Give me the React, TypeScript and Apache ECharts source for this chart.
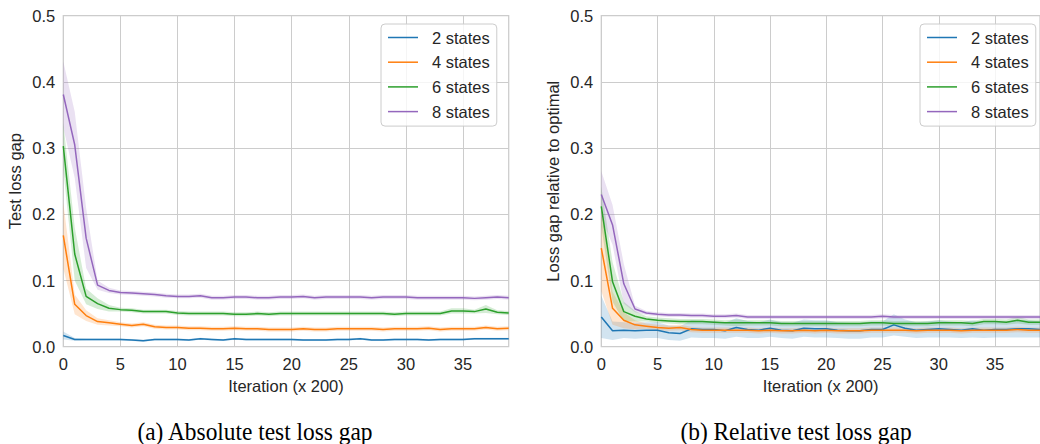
import React, { useEffect, useRef } from "react";
import * as echarts from "echarts";

// Iteration index (x 200)
const iterations: number[] = Array.from({ length: 40 }, (_, i) => i);
const xTicks = [0, 5, 10, 15, 20, 25, 30, 35];
const yTicks = [0, 0.1, 0.2, 0.3, 0.4, 0.5];

const seriesNames = ["2 states", "4 states", "6 states", "8 states"];
const seriesColors = ["#1f77b4", "#ff7f0e", "#2ca02c", "#9467bd"];

// (a) Absolute test loss gap: mean per iteration
const absMean2 = [0.017, 0.011, 0.011, 0.011, 0.011, 0.011, 0.010, 0.009, 0.011, 0.011, 0.011, 0.010, 0.012, 0.011, 0.010, 0.012, 0.011, 0.011, 0.011, 0.011, 0.011, 0.010, 0.010, 0.010, 0.011, 0.011, 0.012, 0.010, 0.010, 0.011, 0.011, 0.011, 0.010, 0.011, 0.011, 0.011, 0.012, 0.012, 0.012, 0.012];
const absMean4 = [0.168, 0.064, 0.047, 0.038, 0.036, 0.034, 0.032, 0.034, 0.030, 0.029, 0.029, 0.028, 0.028, 0.027, 0.027, 0.028, 0.027, 0.027, 0.026, 0.026, 0.026, 0.027, 0.026, 0.026, 0.027, 0.027, 0.027, 0.027, 0.026, 0.027, 0.027, 0.027, 0.028, 0.026, 0.027, 0.027, 0.027, 0.029, 0.027, 0.028];
const absMean6 = [0.303, 0.140, 0.076, 0.065, 0.058, 0.056, 0.055, 0.053, 0.053, 0.053, 0.051, 0.050, 0.050, 0.050, 0.050, 0.049, 0.049, 0.050, 0.049, 0.050, 0.050, 0.050, 0.050, 0.050, 0.050, 0.050, 0.050, 0.050, 0.050, 0.049, 0.050, 0.050, 0.050, 0.050, 0.054, 0.054, 0.053, 0.057, 0.052, 0.051];
const absMean8 = [0.381, 0.305, 0.164, 0.093, 0.085, 0.082, 0.081, 0.080, 0.079, 0.077, 0.076, 0.076, 0.077, 0.074, 0.074, 0.075, 0.075, 0.074, 0.074, 0.075, 0.075, 0.076, 0.074, 0.075, 0.075, 0.075, 0.075, 0.074, 0.075, 0.075, 0.075, 0.074, 0.074, 0.074, 0.074, 0.074, 0.073, 0.074, 0.075, 0.074];

// (a) half-width of the confidence band
const absSpread2 = [0.006, 0.002, 0.0015, 0.0015, 0.0015, 0.0015, 0.0015, 0.0015, 0.0015, 0.0015, 0.0015, 0.0015, 0.0015, 0.0015, 0.0015, 0.0015, 0.0015, 0.0015, 0.0015, 0.0015, 0.0015, 0.0015, 0.0015, 0.0015, 0.0015, 0.0015, 0.0015, 0.0015, 0.0015, 0.0015, 0.0015, 0.0015, 0.0015, 0.0015, 0.0015, 0.0015, 0.0015, 0.0015, 0.0015, 0.0015];
const absSpread4 = [0.05, 0.015, 0.008, 0.005, 0.004, 0.003, 0.003, 0.003, 0.003, 0.003, 0.003, 0.003, 0.003, 0.003, 0.003, 0.003, 0.003, 0.003, 0.003, 0.003, 0.003, 0.003, 0.003, 0.003, 0.003, 0.003, 0.003, 0.003, 0.003, 0.003, 0.003, 0.003, 0.003, 0.003, 0.003, 0.003, 0.003, 0.003, 0.003, 0.003];
const absSpread6 = [0.035, 0.04, 0.012, 0.008, 0.005, 0.003, 0.003, 0.003, 0.003, 0.003, 0.003, 0.003, 0.003, 0.003, 0.003, 0.003, 0.003, 0.003, 0.003, 0.003, 0.003, 0.003, 0.003, 0.003, 0.003, 0.003, 0.003, 0.003, 0.003, 0.003, 0.003, 0.003, 0.003, 0.003, 0.004, 0.004, 0.003, 0.006, 0.003, 0.003];
const absSpread8 = [0.05, 0.05, 0.045, 0.007, 0.004, 0.003, 0.003, 0.003, 0.003, 0.003, 0.003, 0.003, 0.003, 0.003, 0.003, 0.003, 0.003, 0.003, 0.003, 0.003, 0.003, 0.003, 0.003, 0.003, 0.003, 0.003, 0.003, 0.003, 0.003, 0.003, 0.003, 0.003, 0.003, 0.003, 0.003, 0.003, 0.003, 0.003, 0.003, 0.003];

// (b) Relative test loss gap: mean per iteration
const relMean2 = [0.045, 0.024, 0.025, 0.024, 0.025, 0.025, 0.021, 0.020, 0.027, 0.026, 0.026, 0.024, 0.029, 0.026, 0.025, 0.028, 0.025, 0.024, 0.028, 0.027, 0.027, 0.025, 0.024, 0.024, 0.026, 0.026, 0.033, 0.028, 0.025, 0.026, 0.027, 0.026, 0.025, 0.027, 0.025, 0.026, 0.026, 0.027, 0.027, 0.026];
const relMean4 = [0.149, 0.058, 0.040, 0.033, 0.031, 0.029, 0.028, 0.029, 0.026, 0.025, 0.025, 0.025, 0.025, 0.025, 0.024, 0.025, 0.024, 0.024, 0.025, 0.024, 0.025, 0.024, 0.024, 0.024, 0.025, 0.025, 0.025, 0.025, 0.024, 0.025, 0.025, 0.025, 0.024, 0.025, 0.025, 0.025, 0.025, 0.026, 0.025, 0.025];
const relMean6 = [0.212, 0.098, 0.053, 0.046, 0.042, 0.040, 0.039, 0.038, 0.038, 0.038, 0.037, 0.036, 0.036, 0.036, 0.036, 0.036, 0.035, 0.035, 0.035, 0.035, 0.035, 0.035, 0.035, 0.035, 0.036, 0.036, 0.035, 0.035, 0.035, 0.035, 0.036, 0.036, 0.036, 0.035, 0.038, 0.038, 0.037, 0.040, 0.037, 0.037];
const relMean8 = [0.230, 0.184, 0.095, 0.057, 0.051, 0.049, 0.048, 0.048, 0.047, 0.047, 0.046, 0.046, 0.047, 0.045, 0.045, 0.045, 0.045, 0.045, 0.045, 0.045, 0.045, 0.045, 0.045, 0.045, 0.045, 0.046, 0.045, 0.045, 0.045, 0.045, 0.045, 0.045, 0.045, 0.045, 0.045, 0.045, 0.045, 0.045, 0.045, 0.045];

// (b) half-width of the confidence band
const relSpread2 = [0.032, 0.014, 0.012, 0.012, 0.012, 0.012, 0.011, 0.011, 0.013, 0.013, 0.013, 0.012, 0.014, 0.013, 0.012, 0.013, 0.012, 0.012, 0.013, 0.013, 0.013, 0.012, 0.012, 0.012, 0.012, 0.012, 0.016, 0.013, 0.012, 0.012, 0.013, 0.012, 0.012, 0.013, 0.012, 0.012, 0.012, 0.013, 0.013, 0.012];
const relSpread4 = [0.065, 0.025, 0.012, 0.007, 0.004, 0.004, 0.004, 0.004, 0.004, 0.004, 0.004, 0.004, 0.004, 0.004, 0.004, 0.004, 0.004, 0.004, 0.004, 0.004, 0.004, 0.004, 0.004, 0.004, 0.004, 0.004, 0.004, 0.004, 0.004, 0.004, 0.004, 0.004, 0.004, 0.004, 0.004, 0.004, 0.004, 0.004, 0.004, 0.004];
const relSpread6 = [0.03, 0.03, 0.015, 0.008, 0.004, 0.004, 0.004, 0.004, 0.004, 0.004, 0.004, 0.004, 0.005, 0.004, 0.004, 0.004, 0.004, 0.004, 0.004, 0.004, 0.004, 0.004, 0.004, 0.004, 0.004, 0.004, 0.004, 0.004, 0.004, 0.004, 0.004, 0.004, 0.004, 0.004, 0.004, 0.004, 0.004, 0.005, 0.004, 0.004];
const relSpread8 = [0.035, 0.03, 0.03, 0.005, 0.003, 0.003, 0.003, 0.003, 0.003, 0.003, 0.003, 0.003, 0.003, 0.003, 0.003, 0.003, 0.003, 0.003, 0.003, 0.003, 0.003, 0.003, 0.003, 0.003, 0.003, 0.003, 0.003, 0.003, 0.003, 0.003, 0.003, 0.003, 0.003, 0.003, 0.003, 0.003, 0.003, 0.003, 0.003, 0.003];

const absMeans = [absMean2, absMean4, absMean6, absMean8];
const absSpreads = [absSpread2, absSpread4, absSpread6, absSpread8];
const relMeans = [relMean2, relMean4, relMean6, relMean8];
const relSpreads = [relSpread2, relSpread4, relSpread6, relSpread8];

const FONT = "'Liberation Sans', Arial, sans-serif";
const SERIF = "'Liberation Serif', 'Times New Roman', serif";
const TEXT = "#262626";
const GRID_LINE = "#cccccc";
const LEGEND_ICON = "path://M0,0H30V1.5H0Z";

// Shaded confidence band drawn as one polygon: upper edge forward, lower edge back.
function bandSeries(panel: number, idx: number, mean: number[], spread: number[]) {
  const rows = iterations.map((x, i) => [x, Math.max(0, mean[i] - spread[i]), mean[i] + spread[i]]);
  return {
    type: "custom",
    name: `band-${panel}-${idx}`,
    xAxisIndex: panel,
    yAxisIndex: panel,
    silent: true,
    clip: true,
    z: 1,
    encode: { x: 0, y: [1, 2] },
    data: rows,
    renderItem: (params: any, api: any) => {
      if (params.dataIndex !== 0) return null;
      const upper = rows.map((r) => api.coord([r[0], r[2]]));
      const lower = rows.map((r) => api.coord([r[0], r[1]])).reverse();
      return {
        type: "polygon",
        shape: { points: upper.concat(lower) },
        style: { fill: seriesColors[idx], opacity: 0.2 },
      };
    },
  };
}

function lineSeries(panel: number, idx: number, mean: number[]) {
  return {
    type: "line",
    name: seriesNames[idx],
    xAxisIndex: panel,
    yAxisIndex: panel,
    symbol: "none",
    showSymbol: false,
    z: 3,
    color: seriesColors[idx],
    lineStyle: { width: 1.5, color: seriesColors[idx] },
    data: iterations.map((x, i) => [x, mean[i]]),
  };
}

function xAxisFor(panel: number) {
  return {
    type: "value",
    gridIndex: panel,
    min: 0,
    max: 39,
    interval: 5,
    name: "Iteration (x 200)",
    nameLocation: "middle",
    nameGap: 27,
    nameTextStyle: { fontFamily: FONT, fontSize: 16.5, color: TEXT },
    axisLine: { show: false },
    axisTick: { show: false, customValues: xTicks },
    axisLabel: {
      fontFamily: FONT,
      fontSize: 16.5,
      color: TEXT,
      margin: 9,
      customValues: xTicks,
    },
    splitLine: { show: true, lineStyle: { color: GRID_LINE, width: 1 } },
  };
}

function yAxisFor(panel: number, title: string) {
  return {
    type: "value",
    gridIndex: panel,
    min: yTicks[0],
    max: yTicks[yTicks.length - 1],
    interval: 0.1,
    name: title,
    nameLocation: "middle",
    nameGap: 40,
    nameTextStyle: { fontFamily: FONT, fontSize: 16.5, color: TEXT },
    axisLine: { show: false },
    axisTick: { show: false },
    axisLabel: {
      fontFamily: FONT,
      fontSize: 16.5,
      color: TEXT,
      margin: 8,
      formatter: (v: number) => v.toFixed(1),
    },
    splitLine: { show: true, lineStyle: { color: GRID_LINE, width: 1 } },
  };
}

function legendFor(left: number) {
  return {
    data: seriesNames.map((name) => ({ name, icon: LEGEND_ICON })),
    left,
    top: 24,
    orient: "vertical",
    itemWidth: 30,
    itemHeight: 17,
    itemGap: 7.7,
    padding: [5, 7, 6, 7],
    backgroundColor: "rgba(255,255,255,0.8)",
    borderColor: "#cccccc",
    borderWidth: 1,
    borderRadius: 4,
    selectedMode: false,
    itemStyle: { borderWidth: 0 },
    lineStyle: { width: 0 },
    textStyle: {
      fontFamily: FONT,
      fontSize: 16.5,
      color: TEXT,
      lineHeight: 17,
      padding: [0, 0, 0, 9],
    },
  };
}

export default function App() {
  const ref = useRef<HTMLDivElement>(null);

  useEffect(() => {
    if (!ref.current) return;
    const chart = echarts.init(ref.current, undefined, { renderer: "svg" });

    const series: any[] = [];
    absMeans.forEach((m, i) => series.push(bandSeries(0, i, m, absSpreads[i])));
    relMeans.forEach((m, i) => series.push(bandSeries(1, i, m, relSpreads[i])));
    absMeans.forEach((m, i) => series.push(lineSeries(0, i, m)));
    relMeans.forEach((m, i) => series.push(lineSeries(1, i, m)));

    chart.setOption({
      animation: false,
      backgroundColor: "#ffffff",
      grid: [
        { left: 63.3, top: 15.7, width: 445.4, height: 331, show: true, borderColor: GRID_LINE, borderWidth: 1.25, backgroundColor: "#ffffff" },
        { left: 601.3, top: 15.7, width: 446, height: 331, show: true, borderColor: GRID_LINE, borderWidth: 1.25, backgroundColor: "#ffffff" },
      ],
      xAxis: [xAxisFor(0), xAxisFor(1)],
      yAxis: [yAxisFor(0, "Test loss gap"), yAxisFor(1, "Loss gap relative to optimal")],
      legend: [legendFor(381), legendFor(920)],
      graphic: [
        {
          type: "text",
          x: 255,
          y: 431,
          scaleX: 0.9,
          style: {
            text: "(a) Absolute test loss gap",
            fontFamily: SERIF,
            fontSize: 26,
            fill: "#000000",
            textAlign: "center",
            textVerticalAlign: "middle",
          },
        },
        {
          type: "text",
          x: 796,
          y: 431,
          scaleX: 0.9,
          style: {
            text: "(b) Relative test loss gap",
            fontFamily: SERIF,
            fontSize: 26,
            fill: "#000000",
            textAlign: "center",
            textVerticalAlign: "middle",
          },
        },
      ],
      series,
    });

    return () => chart.dispose();
  }, []);

  return (
    <div
      ref={ref}
      style={{ position: "fixed", left: 0, top: 0, width: 1040, height: 444, background: "#ffffff" }}
    />
  );
}
